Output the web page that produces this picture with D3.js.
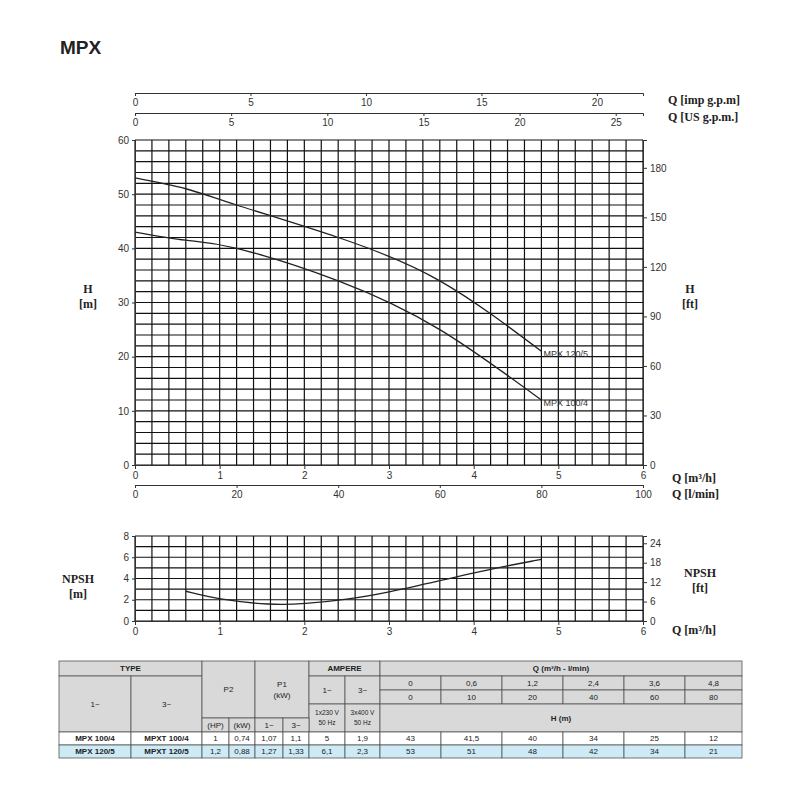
<!DOCTYPE html>
<html><head><meta charset="utf-8">
<script src="https://cdn.jsdelivr.net/npm/d3@7"></script>
<style>body{margin:0;background:#fff}svg{font-family:Arial,"Liberation Sans",sans-serif}</style>
</head><body><svg id="c" width="800" height="800"></svg>
<script>
const qTable=[0,0.6,1.2,2.4,3.6,4.8];
const qLmin=[0,10,20,40,60,80];
const h100=[43,41.5,40,34,25,12];
const h120=[53,51,48,42,34,21];
const npshQ=[0.6,1.0,1.6,2.0,2.5,3.0,3.6,4.2,4.8];
const npshH=[2.8,2.0,1.5,1.6,2.0,2.7,3.8,4.9,5.8];
const hTicks=[0,10,20,30,40,50,60];
const ftTicks=[0,30,60,90,120,150,180];
const qTicks=[0,1,2,3,4,5,6];
const lminTicks=[0,20,40,60,80,100];
const impTicks=[0,5,10,15,20];
const usTicks=[0,5,10,15,20,25];
const npTicks=[0,2,4,6,8];
const npFtTicks=[0,6,12,18,24];

const svg=d3.select("#c");
svg.append("text").attr("x",60).attr("y",54).attr("font-size",19).attr("font-weight","bold").attr("fill","#222").text("MPX");
const L=135,R=643;
const fmt=d3.format("d");
const x=d3.scaleLinear().domain([0,6]).range([L,R]);
const y=d3.scaleLinear().domain([0,60]).range([465,140]);
const yft=d3.scaleLinear().domain([0,60/0.3048]).range([465,140]);
const g=svg.append("g");
function grid(ys,yd,step){
  d3.range(0,6.0001,0.2).forEach(v=>g.append("line").attr("x1",x(v)).attr("x2",x(v)).attr("y1",ys(yd[0])).attr("y2",ys(yd[1])).attr("stroke","#111").attr("stroke-width",1.2));
  d3.range(yd[0],yd[1]+0.001,step).forEach(v=>g.append("line").attr("x1",L).attr("x2",R).attr("y1",ys(v)).attr("y2",ys(v)).attr("stroke","#111").attr("stroke-width",1.2));
}
grid(y,[0,60],2);
function styleAx(a){a.selectAll("text").attr("font-size",10).attr("fill","#333");a.selectAll("path,line").attr("stroke","#333");return a;}
styleAx(svg.append("g").attr("transform",`translate(${L},0)`).call(d3.axisLeft(y).tickValues(hTicks).tickSize(3).tickFormat(fmt)));
styleAx(svg.append("g").attr("transform",`translate(${R},0)`).call(d3.axisRight(yft).tickValues(ftTicks).tickSize(4).tickFormat(fmt)));
styleAx(svg.append("g").attr("transform",`translate(0,465)`).call(d3.axisBottom(x).tickValues(qTicks).tickSize(4).tickFormat(fmt)));
const xl=d3.scaleLinear().domain([0,100]).range([L,R]);
styleAx(svg.append("g").attr("transform",`translate(0,485)`).call(d3.axisBottom(xl).tickValues(lminTicks).tickSize(3).tickFormat(fmt)));
const ximp=d3.scaleLinear().domain([0,6*3.666]).range([L,R]);
const xus=d3.scaleLinear().domain([0,6*4.403]).range([L,R]);
styleAx(svg.append("g").attr("transform",`translate(0,93)`).call(d3.axisBottom(ximp).tickValues(impTicks).tickSize(3).tickFormat(fmt)));
styleAx(svg.append("g").attr("transform",`translate(0,113)`).call(d3.axisBottom(xus).tickValues(usTicks).tickSize(3).tickFormat(fmt)));
function lab(t,xx,yy,anchor){svg.append("text").attr("x",xx).attr("y",yy).attr("font-family","'Liberation Serif',serif").attr("font-weight","bold").attr("font-size",12).attr("fill","#222").attr("text-anchor",anchor||"start").text(t);}
lab("Q [imp g.p.m]",668,104);lab("Q [US g.p.m.]",668,121);
lab("Q [m³/h]",672,482);lab("Q [l/min]",672,498);
lab("H",88,293,"middle");lab("[m]",88,308,"middle");
lab("H",690,293,"middle");lab("[ft]",690,308,"middle");
const line=d3.line().x(d=>x(d[0])).y(d=>y(d[1])).curve(d3.curveNatural);
[[h120,"MPX 120/5"],[h100,"MPX 100/4"]].forEach(([h,n])=>{
  const pts=qTable.map((q,i)=>[q,h[i]]);
  svg.append("path").attr("d",line(pts)).attr("fill","none").attr("stroke","#222").attr("stroke-width",1.3);
  svg.append("text").attr("x",x(4.8)+2).attr("y",y(h[5])+6).attr("font-size",9).attr("fill","#333").text(n);
});
// NPSH
const yn=d3.scaleLinear().domain([0,8]).range([621,536]);
const ynft=d3.scaleLinear().domain([0,8/0.3048]).range([621,536]);
grid(yn,[0,8],1);
styleAx(svg.append("g").attr("transform",`translate(${L},0)`).call(d3.axisLeft(yn).tickValues(npTicks).tickSize(3).tickFormat(fmt)));
styleAx(svg.append("g").attr("transform",`translate(${R},0)`).call(d3.axisRight(ynft).tickValues(npFtTicks).tickSize(4).tickFormat(fmt)));
styleAx(svg.append("g").attr("transform",`translate(0,621)`).call(d3.axisBottom(x).tickValues(qTicks).tickSize(4).tickFormat(fmt)));
const nl=d3.line().x(d=>x(d[0])).y(d=>yn(d[1])).curve(d3.curveBasis);
svg.append("path").attr("d",nl(npshQ.map((q,i)=>[q,npshH[i]]))).attr("fill","none").attr("stroke","#222").attr("stroke-width",1.3);
lab("NPSH",78,583,"middle");lab("[m]",78,598,"middle");
lab("NPSH",700,577,"middle");lab("[ft]",700,592,"middle");
lab("Q [m³/h]",672,634);
// table
const cx=[59,131,202,229,255,283,309,345,380,441,502,563,624,685,742];
const ry=[661,676,690,704,718,732,745,758];
const t=svg.append("g");
const grey="#d9d9d9",blue="#cdeaf6",bd="#555";
function cell(c0,c1,r0,r1,txt,fill,opts={}){
  t.append("rect").attr("x",cx[c0]).attr("y",ry[r0]).attr("width",cx[c1]-cx[c0]).attr("height",ry[r1]-ry[r0]).attr("fill",fill).attr("stroke",bd).attr("stroke-width",0.8);
  const lines=Array.isArray(txt)?txt:[txt];
  const mx=(cx[c0]+cx[c1])/2,my=(ry[r0]+ry[r1])/2;
  lines.forEach((s,i)=>t.append("text").attr("x",mx).attr("y",my+(i-(lines.length-1)/2)*(opts.lh||11)+(opts.fs||8)*0.35).attr("text-anchor","middle").attr("font-size",opts.fs||8).attr("font-weight",opts.b?"bold":"normal").attr("fill","#222").text(s));
}
cell(0,2,0,1,"TYPE",grey,{b:1});
cell(0,1,1,5,"1~",grey);cell(1,2,1,5,"3~",grey);
cell(2,4,0,4,"P2",grey);cell(4,6,0,4,["P1","(kW)"],grey);
cell(6,8,0,1,"AMPERE",grey,{b:1});
cell(6,7,1,3,"1~",grey);cell(7,8,1,3,"3~",grey);
cell(6,7,3,5,["1x230 V","50 Hz"],grey,{fs:6.5,lh:10});cell(7,8,3,5,["3x400 V","50 Hz"],grey,{fs:6.5,lh:10});
cell(8,14,0,1,"Q (m³/h - l/min)",grey,{b:1});
qTable.forEach((q,i)=>cell(8+i,9+i,1,2,String(q).replace(".",","),grey));
qLmin.forEach((q,i)=>cell(8+i,9+i,2,3,String(q),grey));
cell(8,14,3,5,"H (m)",grey,{b:1});
cell(2,3,4,5,"(HP)",grey);cell(3,4,4,5,"(kW)",grey);cell(4,5,4,5,"1~",grey);cell(5,6,4,5,"3~",grey);
const rows=[["MPX 100/4","MPXT 100/4","1","0,74","1,07","1,1","5","1,9",h100,"#fff"],
            ["MPX 120/5","MPXT 120/5","1,2","0,88","1,27","1,33","6,1","2,3",h120,blue]];
rows.forEach((r,k)=>{
  const rr=5+k;
  cell(0,1,rr,rr+1,r[0],r[9],{b:1});cell(1,2,rr,rr+1,r[1],r[9],{b:1});
  for(let j=2;j<8;j++)cell(j,j+1,rr,rr+1,r[j],r[9]);
  r[8].forEach((v,i)=>cell(8+i,9+i,rr,rr+1,String(v).replace(".",","),r[9]));
});
</script></body></html>
